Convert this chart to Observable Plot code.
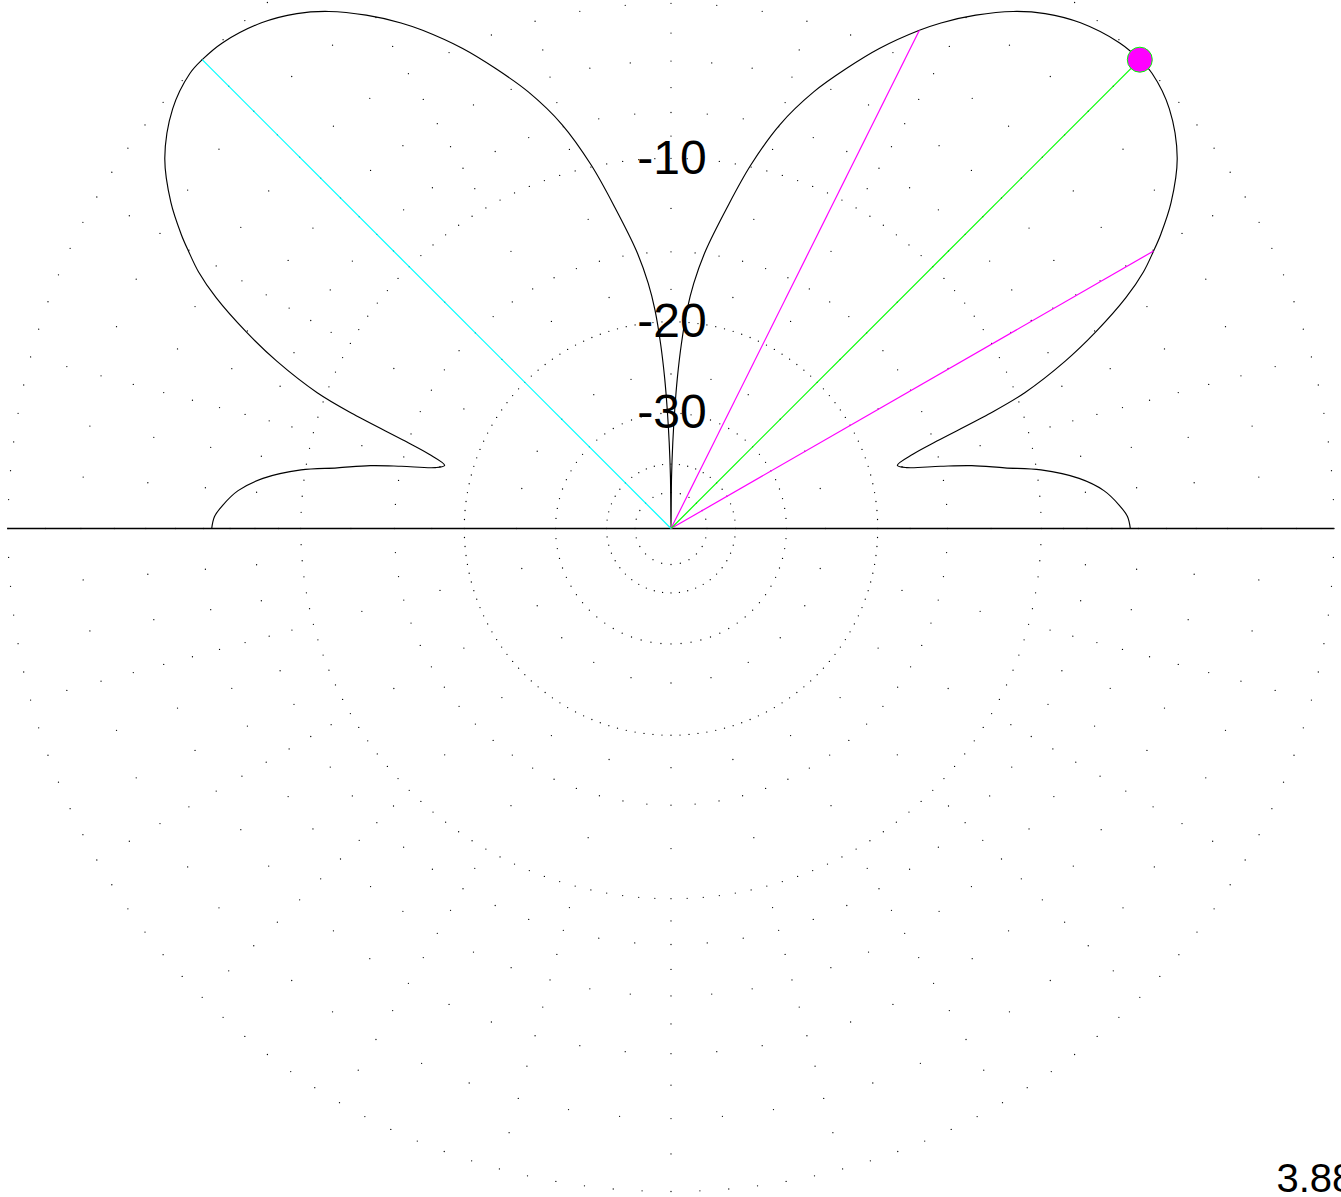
<!DOCTYPE html>
<html>
<head>
<meta charset="utf-8">
<script src="https://cdn.jsdelivr.net/npm/d3@7"></script>
<script src="https://cdn.jsdelivr.net/npm/@observablehq/plot@0.6"></script>
<style>
  html, body { margin: 0; padding: 0; background: #fff; }
  #chart svg { display: block; }
</style>
</head>
<body>
<div id="chart"></div>
<script>
// ---- Pattern data (elevation angle in degrees, gain in dB relative to max) ----
const elevation = [
  0, 1.5, 3, 5, 7, 9, 10.3, 11.8, 13, 14.5, 15.6, 17.1, 18.2, 19.8, 21, 23, 24.8, 26.9, 28.5,
  29.9, 31, 33.1, 36.2, 40.1, 43.4, 45, 47.3, 51, 54, 56.5, 59.3, 61.9, 63.5, 66.5, 69.1, 71.9,
  74.9, 77.6, 80.1, 82.9, 84.7, 85.8, 86.8, 87.6, 88.2, 88.8, 89.4, 90,
  90.6, 91.2, 91.8, 92.4, 93.2, 94.2, 95.3, 97.1, 99.9, 102.4, 105.1, 108.1, 110.9, 113.5, 116.5,
  118.1, 120.7, 123.5, 126, 129, 132.7, 135, 136.6, 139.9, 143.8, 146.9, 149, 150.1, 151.5, 153.1,
  155.2, 157, 159, 160.2, 161.8, 162.9, 164.4, 165.5, 167, 168.2, 169.7, 171, 173, 175,
  177, 178.5, 180
];
const gainDb = [
  -6.3, -6.4, -6.7, -7.25, -8.2, -9.8, -11.5, -13.2, -15.0, -17.2, -17.8, -16.5, -14.8, -11.6, -9.6, -7.5, -6.0, -4.5, -3.6,
  -3.0, -2.55, -1.8, -0.95, -0.3, -0.02, 0, -0.05, -0.32, -0.7, -1.15, -1.8, -2.5, -3.0, -4.05, -5.1, -6.3,
  -7.9, -9.9, -12.2, -14.8, -17.0, -19.0, -22.0, -25.5, -29.5, -35, -44, -100,
  -44, -35, -29.5, -25.5, -22.0, -19.0, -17.0, -14.8, -12.2, -9.9, -7.9, -6.3, -5.1, -4.05, -3.0,
  -2.5, -1.8, -1.15, -0.7, -0.32, -0.05, 0, -0.02, -0.3, -0.95, -1.8, -2.55, -3.0, -3.6, -4.5,
  -6.0, -7.5, -9.6, -11.6, -14.8, -16.5, -17.8, -17.2, -15.0, -13.2, -11.5, -9.8, -8.2, -7.25,
  -6.7, -6.4, -6.3
];

// Markers: maximum, its mirror, and the -3 dB beamwidth edges
const maxElevation = 45;
const maxGain = 0;
const mirrorElevation = 135;
const beamEdgeElevations = [29.9, 63.5];
const beamEdgeGain = -3.0;

// Scale labels and grid (dB circles with angular dot spacing in degrees)
const scaleLabels = [-10, -20, -30];
const gridLevels = [0, -1, -2, -3, -4, -5, -6, -7, -8, -9, -10, -12.5, -15, -17.5, -20, -25, -30, -40, -50];
const gridDotStep = [2.5, 15, 5, 15, 5, 15, 5, 15, 5, 15, 2.5, 15, 5, 15, 2.5, 15, 5, 7.5, 15];

const gainText = "3.88";

// ---- Layout ----
const W = 1341, H = 1197;
const R = 663;              // radius of the 0 dB circle in px
const CX = 670.5, CY = 528; // pattern centre in px

// ARRL log scale: each 2 dB shrinks the radius by 0.89
const rho = db => db <= -99 ? 0 : Math.pow(0.89, -db / 2);
const rad = a => a * Math.PI / 180;
const px = (a, db) => rho(db) * Math.cos(rad(a));
const py = (a, db) => rho(db) * Math.sin(rad(a));

const pattern = elevation.map((a, i) => ({x: px(a, gainDb[i]), y: py(a, gainDb[i])}));

const gridDots = [];
gridLevels.forEach((lv, i) => {
  const step = gridDotStep[i];
  for (let a = 0; a < 360 - 1e-6; a += step) gridDots.push({x: px(a, lv), y: py(a, lv)});
});

const rays = [
  {a: mirrorElevation, g: maxGain, c: "#00ffff"},
  {a: beamEdgeElevations[0], g: beamEdgeGain, c: "#ff00ff"},
  {a: beamEdgeElevations[1], g: beamEdgeGain, c: "#ff00ff"},
  {a: maxElevation, g: maxGain, c: "#00ff00"}
].map(d => ({x2: px(d.a, d.g), y2: py(d.a, d.g), c: d.c}));

const chart = Plot.plot({
  width: W,
  height: H,
  margin: 0,
  style: {background: "#fff", fontFamily: "'Liberation Sans', Arial, Helvetica, sans-serif"},
  x: {domain: [-CX / R, (W - CX) / R], axis: null},
  y: {domain: [-(H - CY) / R, CY / R], axis: null},
  marks: [
    Plot.dot(gridDots, {x: "x", y: "y", r: 0.65, fill: "#000", stroke: null}),
    Plot.ruleY([0], {x1: -1.0005, x2: 1.0005, stroke: "#000", strokeWidth: 1.6}),
    Plot.line(pattern, {x: "x", y: "y", stroke: "#000", strokeWidth: 1.15, curve: "catmull-rom"}),
    Plot.link(rays, {x1: 0, y1: 0, x2: "x2", y2: "y2", stroke: d => d.c, strokeWidth: 1.2}),
    Plot.dot([{x: px(maxElevation, maxGain), y: py(maxElevation, maxGain)}],
      {x: "x", y: "y", r: 12.5, fill: "#ff00ff", stroke: "#00ff00", strokeWidth: 1}),
    Plot.text(scaleLabels, {x: 0, y: d => rho(d), text: d => String(d), fontSize: 48, dx: 1, fill: "#000"}),
    Plot.text([gainText], {frameAnchor: "bottom-right", text: d => d, textAnchor: "start",
      lineAnchor: "bottom", dx: -65, dy: -6, fontSize: 40, fill: "#000"})
  ]
});
document.getElementById("chart").appendChild(chart);
</script>
</body>
</html>
